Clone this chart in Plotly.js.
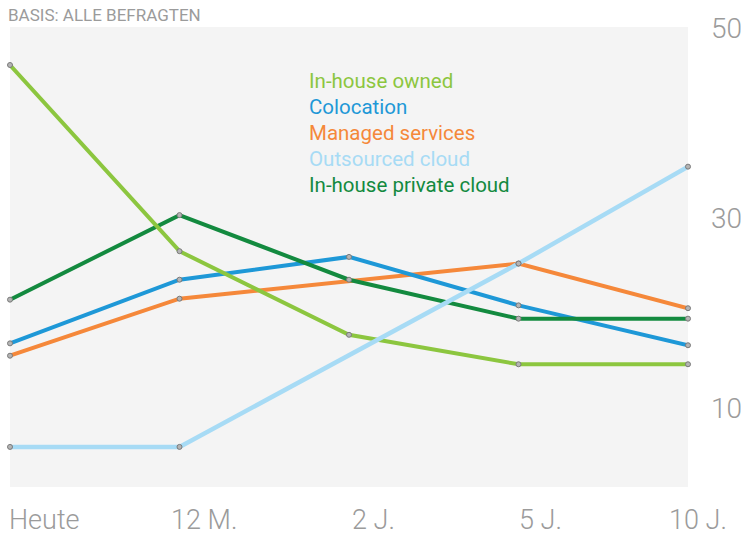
<!DOCTYPE html>
<html>
<head>
<meta charset="utf-8">
<script src="https://cdn.plot.ly/plotly-3.0.1.min.js"></script>
<style>html,body{margin:0;padding:0;background:#fff;}#chart{width:741px;height:537px;}</style>
</head>
<body>
<div id="chart"></div>
<script>
var categories = ["Heute", "12 M.", "2 J.", "5 J.", "10 J."];
var seriesNames = ["In-house owned", "Colocation", "Managed services", "Outsourced cloud", "In-house private cloud"];
var inHouseOwned = [46.1, 26.5, 17.7, 14.6, 14.6];
var colocation = [16.8, 23.5, 25.9, 20.8, 16.6];
var managedServices = [15.5, 21.5, null, 25.2, 20.5];
var outsourcedCloud = [5.9, 5.9, null, 25.2, 35.4];
var inHousePrivateCloud = [21.4, 30.3, 23.5, 19.4, 19.4];
var yTickVals = [10, 30, 50];
var titleText = "BASIS: ALLE BEFRAGTEN";

var seriesValues = [inHouseOwned, colocation, managedServices, outsourcedCloud, inHousePrivateCloud];
var colors = ["#8cc63f", "#1e98d7", "#f5883a", "#a7dbf5", "#138a3f"];
var widths = [4, 4, 4, 4.5, 4];
var drawOrder = [2, 1, 4, 0, 3];
var xIdx = categories.map(function (c, i) { return i; });

var FONT = "Roboto, 'Liberation Sans', sans-serif";
var GRAY = "#9b9b9b";

var traces = [];
drawOrder.forEach(function (k) {
  traces.push({
    type: "scatter", mode: "lines", x: xIdx, y: seriesValues[k], name: seriesNames[k],
    connectgaps: true, cliponaxis: false, hoverinfo: "skip", showlegend: false,
    line: { color: colors[k], width: widths[k] }
  });
});
drawOrder.forEach(function (k) {
  traces.push({
    type: "scatter", mode: "markers", x: xIdx, y: seriesValues[k], name: seriesNames[k],
    cliponaxis: false, showlegend: false,
    marker: { size: 5, color: "#b4b4b4", line: { color: "#7a7a7a", width: 1 } }
  });
});

var labelShift = [34, 24, 24, 22, 10];
var annotations = [];
categories.forEach(function (c, i) {
  annotations.push({
    xref: "x", yref: "paper", x: i, y: 0, xanchor: "center", yanchor: "middle",
    xshift: labelShift[i], yshift: -33, showarrow: false, text: c,
    font: { family: FONT, size: 27, color: GRAY, weight: 300 }
  });
});
seriesNames.forEach(function (n, i) {
  annotations.push({
    xref: "paper", yref: "paper", x: 0, y: 1, xanchor: "left", yanchor: "middle",
    xshift: 297, yshift: -54 - 26 * i, showarrow: false, text: n,
    font: { family: FONT, size: 20.5, color: colors[i], weight: 400 }
  });
});

var layout = {
  width: 741, height: 537,
  margin: { l: 10, r: 53, t: 27, b: 50, pad: 0 },
  paper_bgcolor: "#ffffff", plot_bgcolor: "#f4f4f4",
  showlegend: false,
  title: {
    text: titleText, xref: "container", yref: "container",
    x: 8 / 741, xanchor: "left", y: 1 - 15 / 537, yanchor: "middle",
    font: { family: FONT, size: 17, color: GRAY }
  },
  xaxis: {
    range: [0, 4], showgrid: false, zeroline: false, showline: false,
    showticklabels: false, ticks: "", fixedrange: true
  },
  yaxis: {
    side: "right", range: [1.68, 50.1], tickvals: yTickVals, ticktext: yTickVals.map(String),
    showgrid: false, zeroline: false, showline: false, ticks: "",
    ticklabelstandoff: 22,
    tickfont: { family: FONT, size: 28, color: GRAY, weight: 300 }
  },
  annotations: annotations
};

Plotly.newPlot("chart", traces, layout, { displayModeBar: false, staticPlot: true });
</script>
</body>
</html>
